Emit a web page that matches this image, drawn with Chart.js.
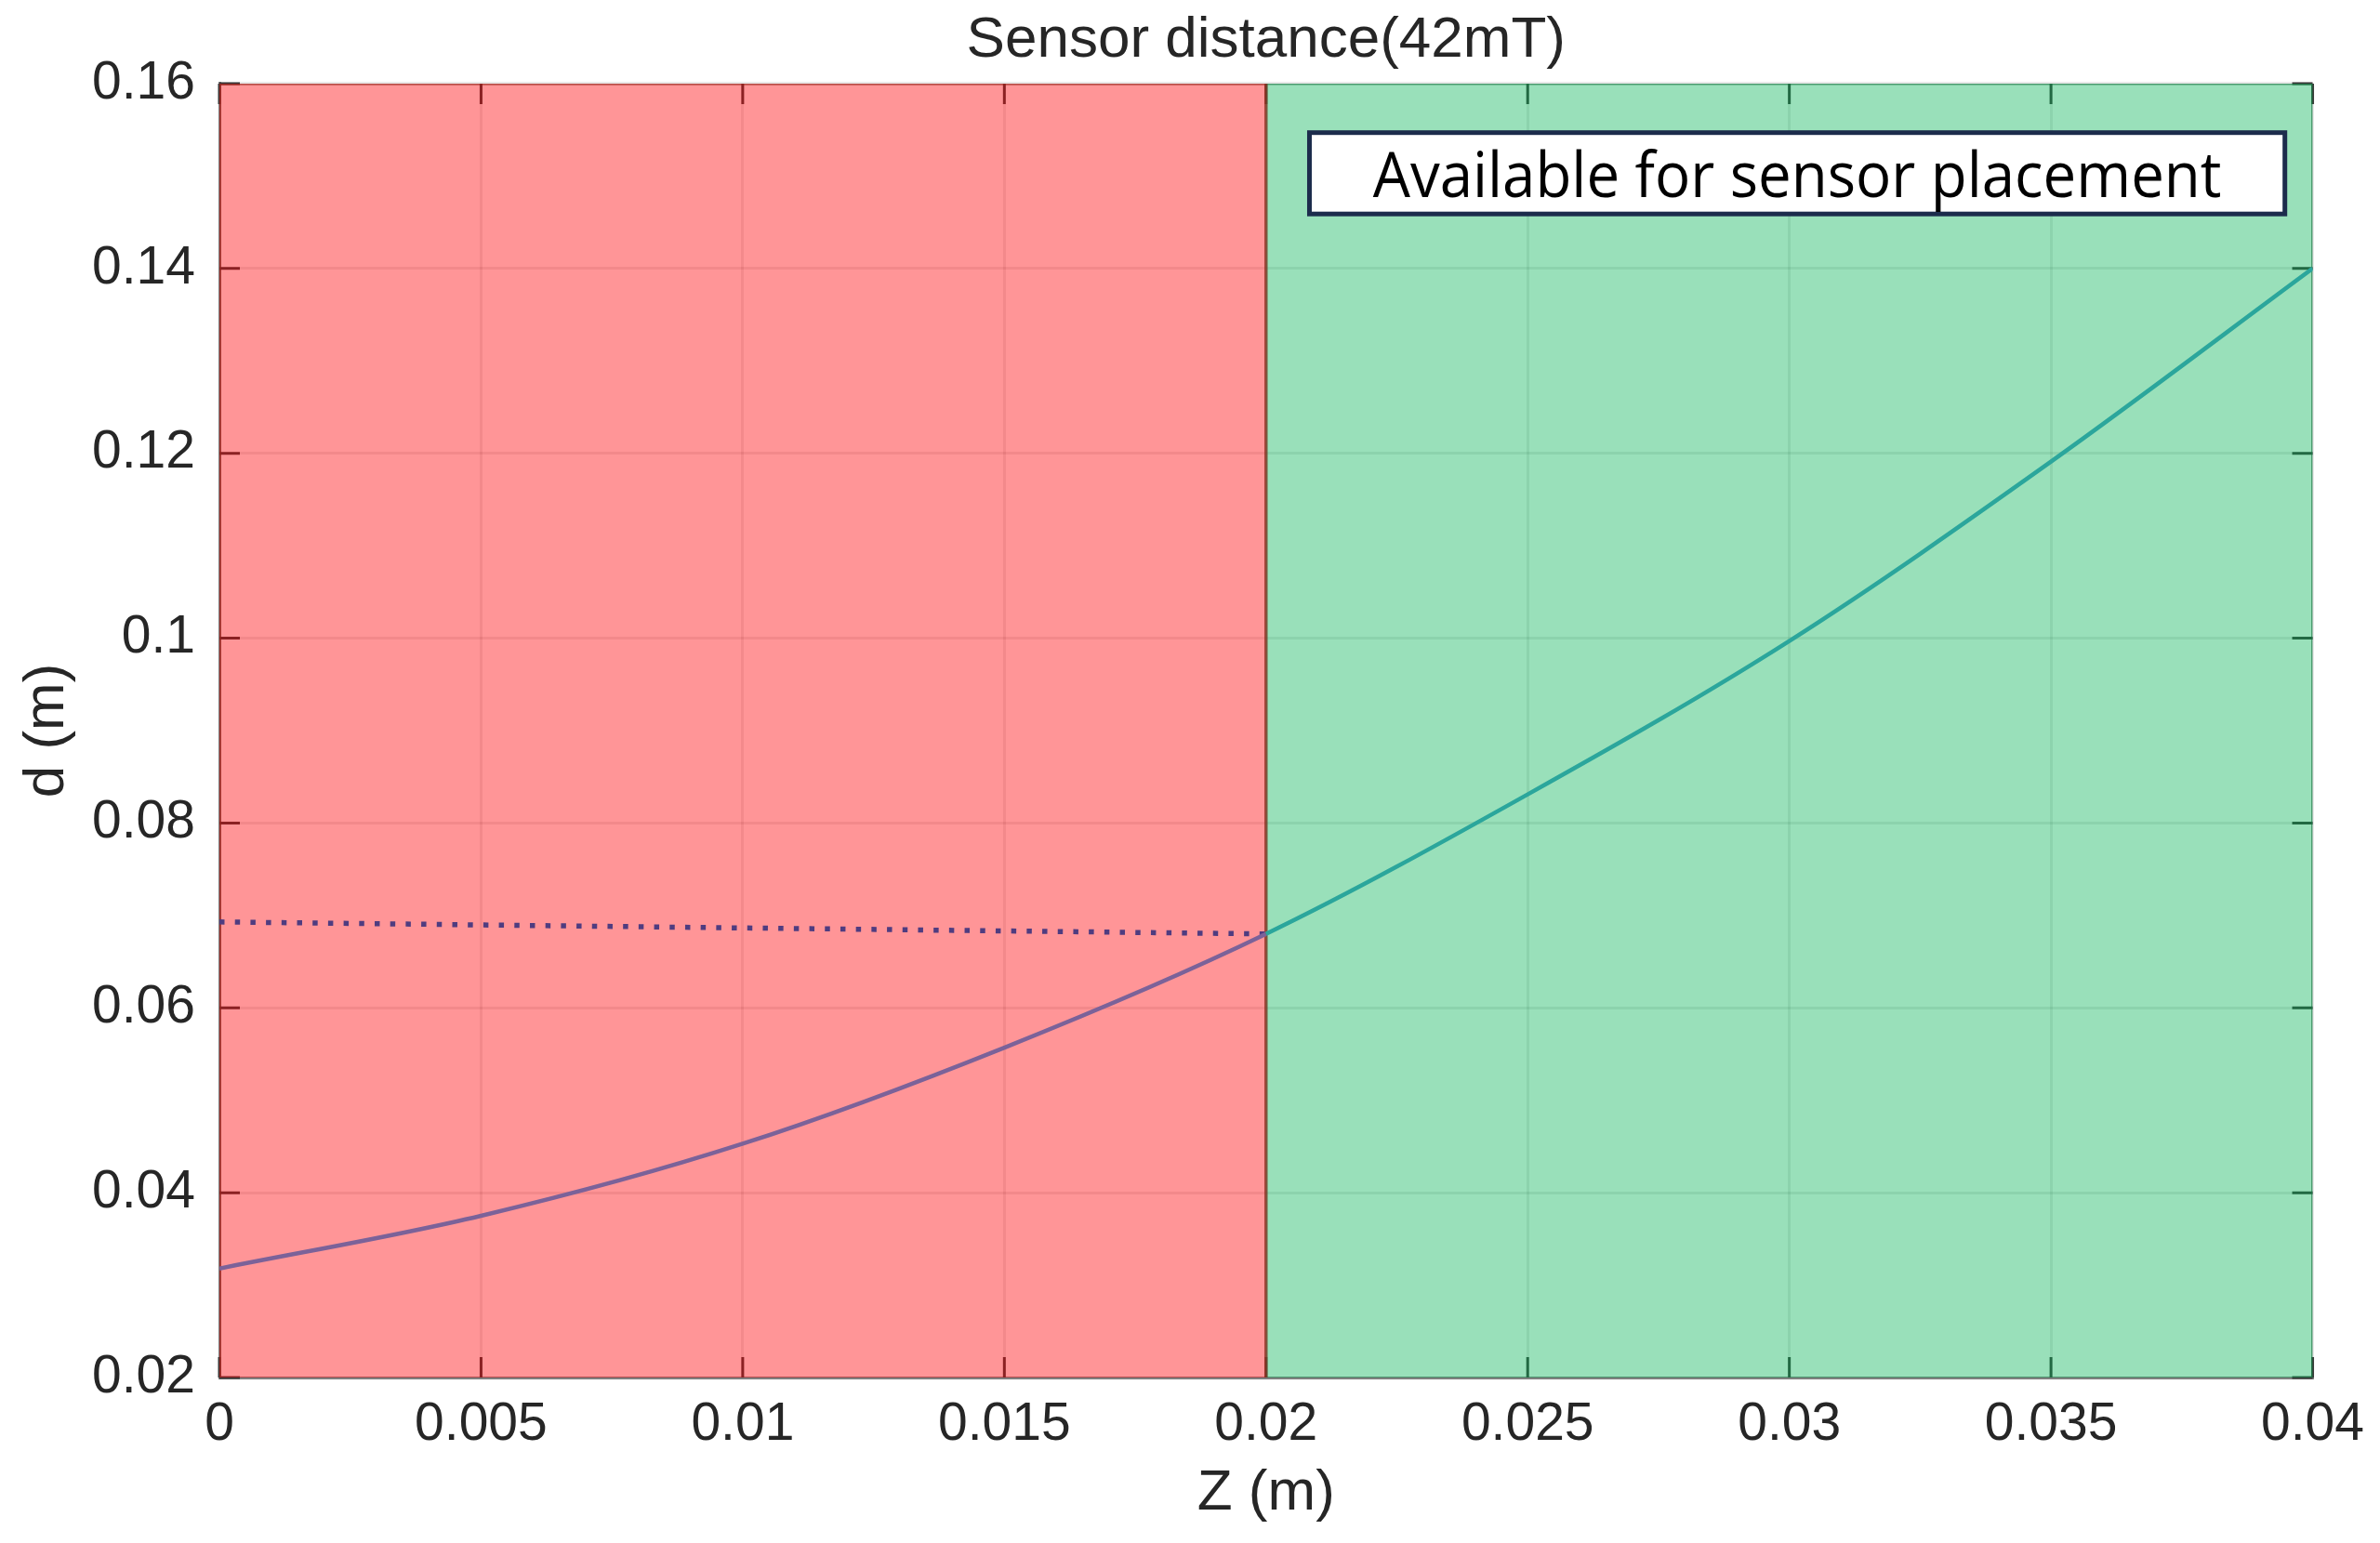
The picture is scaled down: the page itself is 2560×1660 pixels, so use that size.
<!DOCTYPE html>
<html lang="en">
<head>
  <meta charset="UTF-8" />
  <title>Sensor distance(42mT)</title>
  <script src="https://cdn.jsdelivr.net/npm/chart.js"></script>
  <style>
    html, body { margin: 0; padding: 0; background: #fff; }
  </style>
</head>
<body>
  <canvas id="distChart" width="2560" height="1660"></canvas>

  <script>
    // Z position (m) and sensor distance d (m)
    const zValues = [0, 0.005, 0.01, 0.015, 0.02, 0.025, 0.03, 0.035, 0.04];
    const dValues = [0.0318, 0.0375, 0.0453, 0.0557, 0.0680, 0.0831, 0.0997, 0.1191, 0.1400];

    // dotted reference line inside the red zone
    const refZ = [0, 0.02];
    const refD = [0.0693, 0.0680];

    // shaded zones along Z
    const blockedZone = [0, 0.02];
    const freeZone = [0.02, 0.04];

    const xTicks = [0, 0.005, 0.01, 0.015, 0.02, 0.025, 0.03, 0.035, 0.04];
    const yTicks = [0.02, 0.04, 0.06, 0.08, 0.1, 0.12, 0.14, 0.16];

    const zoneLabel = "Available for sensor placement";

    const yMin = yTicks[0], yMax = yTicks[yTicks.length - 1];
    const fmt = v => String(parseFloat(v.toFixed(4)));

    function zoneData(zone) {
      return [
        { x: zone[0], y: yMin },
        { x: zone[0], y: yMax },
        { x: zone[1], y: yMax },
        { x: zone[1], y: yMin }
      ];
    }

    // little inward tick marks on all four sides, like the original axes box
    const innerTicks = {
      id: "innerTicks",
      beforeDatasetsDraw(chart) {
        const { ctx, chartArea: a, scales: { x, y } } = chart;
        ctx.save();
        ctx.strokeStyle = "#3a3a3a";
        ctx.lineWidth = 3;
        ctx.beginPath();
        x.ticks.forEach(t => {
          const px = x.getPixelForValue(t.value);
          ctx.moveTo(px, a.bottom); ctx.lineTo(px, a.bottom - 22);
          ctx.moveTo(px, a.top); ctx.lineTo(px, a.top + 22);
        });
        y.ticks.forEach(t => {
          const py = y.getPixelForValue(t.value);
          ctx.moveTo(a.left, py); ctx.lineTo(a.left + 22, py);
          ctx.moveTo(a.right, py); ctx.lineTo(a.right - 22, py);
        });
        ctx.stroke();
        ctx.restore();
      }
    };

    // text box in the green zone
    const zoneBox = {
      id: "zoneBox",
      afterDatasetsDraw(chart) {
        const { ctx, scales: { x, y } } = chart;
        const left = x.getPixelForValue(0.02083);
        const right = x.getPixelForValue(0.03947);
        const top = y.getPixelForValue(0.1547);
        const bottom = y.getPixelForValue(0.1459);
        ctx.save();
        ctx.fillStyle = "#ffffff";
        ctx.fillRect(left, top, right - left, bottom - top);
        ctx.lineWidth = 5;
        ctx.strokeStyle = "#1c2c4c";
        ctx.strokeRect(left, top, right - left, bottom - top);

        ctx.font = '500 68px "Open Sans", "Noto Sans", sans-serif';
        const w = ctx.measureText(zoneLabel).width;
        const sx = (right - left) * 0.87 / w;
        ctx.translate((left + right) / 2, top + (bottom - top) * 0.79);
        ctx.scale(sx, 1);
        ctx.textAlign = "center";
        ctx.textBaseline = "alphabetic";
        ctx.fillStyle = "#000000";
        ctx.fillText(zoneLabel, 0, 0);
        ctx.restore();
      }
    };

    Chart.defaults.font.family = '"Liberation Sans", Arial, sans-serif';

    const ctx = document.getElementById("distChart").getContext("2d");
    new Chart(ctx, {
      type: "line",
      data: {
        datasets: [
          {
            label: "d",
            data: zValues.map((z, i) => ({ x: z, y: dValues[i] })),
            borderWidth: 4.5,
            pointRadius: 0,
            cubicInterpolationMode: "monotone",
            fill: false,
            borderColor: "#2ba69c",
            segment: {
              borderColor: c => c.p0.parsed.x < blockedZone[1] ? "#7b6299" : "#2ba69c"
            },
            order: 0
          },
          {
            label: "ref",
            data: refZ.map((z, i) => ({ x: z, y: refD[i] })),
            borderColor: "#4f3c80",
            borderWidth: 5.5,
            borderDash: [5.5, 11.2],
            pointRadius: 0,
            fill: false,
            order: 0
          },
          {
            label: "blocked",
            data: zoneData(blockedZone),
            backgroundColor: "rgba(255, 0, 4, 0.415)",
            borderColor: "rgba(150, 40, 30, 0.6)",
            borderWidth: 3.5,
            pointRadius: 0,
            tension: 0,
            fill: "start",
            order: 1
          },
          {
            label: "free",
            data: zoneData(freeZone),
            backgroundColor: "rgba(0, 178, 82, 0.4)",
            borderColor: "rgba(30, 120, 70, 0.6)",
            borderWidth: 3,
            pointRadius: 0,
            tension: 0,
            fill: "start",
            order: 2
          }
        ]
      },
      options: {
        responsive: false,
        animation: false,
        layout: { padding: { right: 69 } },
        plugins: {
          legend: { display: false },
          tooltip: { enabled: false },
          title: {
            display: true,
            text: "Sensor distance(42mT)",
            fullSize: false,
            color: "#262626",
            font: { size: 62, weight: "normal", lineHeight: 1.2 },
            padding: { top: 7, bottom: 8.6 }
          }
        },
        scales: {
          x: {
            type: "linear",
            min: xTicks[0],
            max: xTicks[xTicks.length - 1],
            afterBuildTicks: s => { s.ticks = xTicks.map(v => ({ value: v })); },
            afterFit: s => { s.height = 178; },
            ticks: {
              callback: v => fmt(v),
              color: "#262626",
              font: { size: 57 },
              padding: 17,
              maxRotation: 0,
              autoSkip: false
            },
            grid: { color: "rgba(0,0,0,0.085)", lineWidth: 3, drawTicks: false },
            border: { color: "#7f7f7f", width: 3 },
            title: {
              display: true,
              text: "Z (m)",
              color: "#262626",
              font: { size: 62, lineHeight: 1.2 },
              padding: { top: 0, bottom: 16 }
            }
          },
          y: {
            type: "linear",
            min: yMin,
            max: yMax,
            afterBuildTicks: s => { s.ticks = yTicks.map(v => ({ value: v })); },
            afterFit: s => { s.width = 236; },
            ticks: {
              callback: v => fmt(v),
              color: "#262626",
              font: { size: 57 },
              padding: 26,
              autoSkip: false
            },
            grid: { color: "rgba(0,0,0,0.085)", lineWidth: 3, drawTicks: false },
            border: { color: "#7f7f7f", width: 3 },
            title: {
              display: true,
              text: "d (m)",
              color: "#262626",
              font: { size: 62, lineHeight: 1.2 },
              padding: { top: 14, bottom: 0 }
            }
          }
        }
      },
      plugins: [innerTicks, zoneBox]
    });
  </script>
</body>
</html>
